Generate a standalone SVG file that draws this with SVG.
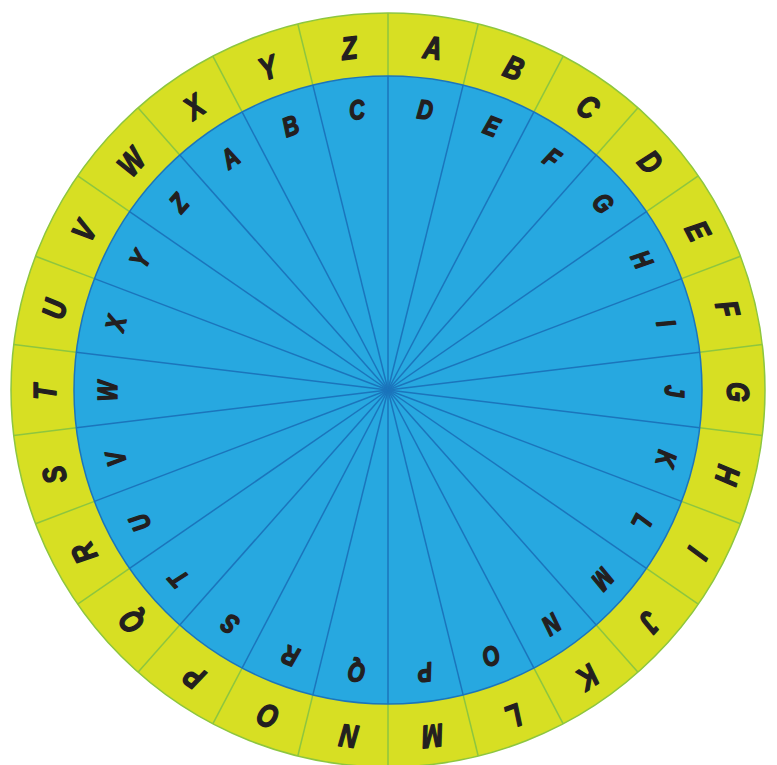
<svg xmlns="http://www.w3.org/2000/svg" width="777" height="765" viewBox="0 0 777 765">
<style>
.ring{fill:#d7df23;stroke:#8dc63f;stroke-width:1.5}
.disc{fill:#27a8e0;stroke:#1b75bc;stroke-width:1.5}
.od{stroke:#8dc63f;stroke-width:1.5}
.id{stroke:#1b75bc;stroke-width:1.5}
.o,.i{font-family:"Liberation Sans",Arial,sans-serif;font-weight:bold;font-style:italic;fill:#231f20;stroke:#231f20;stroke-width:1.5;stroke-linejoin:round;text-anchor:middle}
.o{font-size:32px}
.i{font-size:27px}
</style>
<rect width="777" height="765" fill="#fff"/>
<g id="outer-ring">
<circle class="ring" cx="388" cy="390" r="377"/>
<g class="od">
<line x1="388" y1="13" x2="388" y2="76" transform="rotate(0 388 390)"/>
<line x1="388" y1="13" x2="388" y2="76" transform="rotate(13.846 388 390)"/>
<line x1="388" y1="13" x2="388" y2="76" transform="rotate(27.692 388 390)"/>
<line x1="388" y1="13" x2="388" y2="76" transform="rotate(41.538 388 390)"/>
<line x1="388" y1="13" x2="388" y2="76" transform="rotate(55.385 388 390)"/>
<line x1="388" y1="13" x2="388" y2="76" transform="rotate(69.231 388 390)"/>
<line x1="388" y1="13" x2="388" y2="76" transform="rotate(83.077 388 390)"/>
<line x1="388" y1="13" x2="388" y2="76" transform="rotate(96.923 388 390)"/>
<line x1="388" y1="13" x2="388" y2="76" transform="rotate(110.769 388 390)"/>
<line x1="388" y1="13" x2="388" y2="76" transform="rotate(124.615 388 390)"/>
<line x1="388" y1="13" x2="388" y2="76" transform="rotate(138.462 388 390)"/>
<line x1="388" y1="13" x2="388" y2="76" transform="rotate(152.308 388 390)"/>
<line x1="388" y1="13" x2="388" y2="76" transform="rotate(166.154 388 390)"/>
<line x1="388" y1="13" x2="388" y2="76" transform="rotate(180 388 390)"/>
<line x1="388" y1="13" x2="388" y2="76" transform="rotate(193.846 388 390)"/>
<line x1="388" y1="13" x2="388" y2="76" transform="rotate(207.692 388 390)"/>
<line x1="388" y1="13" x2="388" y2="76" transform="rotate(221.538 388 390)"/>
<line x1="388" y1="13" x2="388" y2="76" transform="rotate(235.385 388 390)"/>
<line x1="388" y1="13" x2="388" y2="76" transform="rotate(249.231 388 390)"/>
<line x1="388" y1="13" x2="388" y2="76" transform="rotate(263.077 388 390)"/>
<line x1="388" y1="13" x2="388" y2="76" transform="rotate(276.923 388 390)"/>
<line x1="388" y1="13" x2="388" y2="76" transform="rotate(290.769 388 390)"/>
<line x1="388" y1="13" x2="388" y2="76" transform="rotate(304.615 388 390)"/>
<line x1="388" y1="13" x2="388" y2="76" transform="rotate(318.462 388 390)"/>
<line x1="388" y1="13" x2="388" y2="76" transform="rotate(332.308 388 390)"/>
<line x1="388" y1="13" x2="388" y2="76" transform="rotate(346.154 388 390)"/>
</g>
</g>
<g id="inner-disc">
<circle class="disc" cx="388" cy="390" r="314"/>
<g class="id">
<line x1="388" y1="390" x2="388" y2="76" transform="rotate(0 388 390)"/>
<line x1="388" y1="390" x2="388" y2="76" transform="rotate(13.846 388 390)"/>
<line x1="388" y1="390" x2="388" y2="76" transform="rotate(27.692 388 390)"/>
<line x1="388" y1="390" x2="388" y2="76" transform="rotate(41.538 388 390)"/>
<line x1="388" y1="390" x2="388" y2="76" transform="rotate(55.385 388 390)"/>
<line x1="388" y1="390" x2="388" y2="76" transform="rotate(69.231 388 390)"/>
<line x1="388" y1="390" x2="388" y2="76" transform="rotate(83.077 388 390)"/>
<line x1="388" y1="390" x2="388" y2="76" transform="rotate(96.923 388 390)"/>
<line x1="388" y1="390" x2="388" y2="76" transform="rotate(110.769 388 390)"/>
<line x1="388" y1="390" x2="388" y2="76" transform="rotate(124.615 388 390)"/>
<line x1="388" y1="390" x2="388" y2="76" transform="rotate(138.462 388 390)"/>
<line x1="388" y1="390" x2="388" y2="76" transform="rotate(152.308 388 390)"/>
<line x1="388" y1="390" x2="388" y2="76" transform="rotate(166.154 388 390)"/>
<line x1="388" y1="390" x2="388" y2="76" transform="rotate(180 388 390)"/>
<line x1="388" y1="390" x2="388" y2="76" transform="rotate(193.846 388 390)"/>
<line x1="388" y1="390" x2="388" y2="76" transform="rotate(207.692 388 390)"/>
<line x1="388" y1="390" x2="388" y2="76" transform="rotate(221.538 388 390)"/>
<line x1="388" y1="390" x2="388" y2="76" transform="rotate(235.385 388 390)"/>
<line x1="388" y1="390" x2="388" y2="76" transform="rotate(249.231 388 390)"/>
<line x1="388" y1="390" x2="388" y2="76" transform="rotate(263.077 388 390)"/>
<line x1="388" y1="390" x2="388" y2="76" transform="rotate(276.923 388 390)"/>
<line x1="388" y1="390" x2="388" y2="76" transform="rotate(290.769 388 390)"/>
<line x1="388" y1="390" x2="388" y2="76" transform="rotate(304.615 388 390)"/>
<line x1="388" y1="390" x2="388" y2="76" transform="rotate(318.462 388 390)"/>
<line x1="388" y1="390" x2="388" y2="76" transform="rotate(332.308 388 390)"/>
<line x1="388" y1="390" x2="388" y2="76" transform="rotate(346.154 388 390)"/>
</g>
</g>
<g id="outer-letters" transform="translate(3 2)">
<g transform="rotate(6.923 388 390)"><text class="o" transform="translate(388 54.5) scale(0.8 1)">A</text></g>
<g transform="rotate(20.769 388 390)"><text class="o" transform="translate(388 54.5) scale(0.8 1)">B</text></g>
<g transform="rotate(34.615 388 390)"><text class="o" transform="translate(388 54.5) scale(0.8 1)">C</text></g>
<g transform="rotate(48.462 388 390)"><text class="o" transform="translate(388 54.5) scale(0.8 1)">D</text></g>
<g transform="rotate(62.308 388 390)"><text class="o" transform="translate(388 54.5) scale(0.8 1)">E</text></g>
<g transform="rotate(76.154 388 390)"><text class="o" transform="translate(388 54.5) scale(0.8 1)">F</text></g>
<g transform="rotate(90 388 390)"><text class="o" transform="translate(388 54.5) scale(0.8 1)">G</text></g>
<g transform="rotate(103.846 388 390)"><text class="o" transform="translate(388 54.5) scale(0.8 1)">H</text></g>
<g transform="rotate(117.692 388 390)"><text class="o" transform="translate(388 54.5) scale(0.8 1)">I</text></g>
<g transform="rotate(131.538 388 390)"><text class="o" transform="translate(388 54.5) scale(0.8 1)">J</text></g>
<g transform="rotate(145.385 388 390)"><text class="o" transform="translate(388 54.5) scale(0.8 1)">K</text></g>
<g transform="rotate(159.231 388 390)"><text class="o" transform="translate(388 54.5) scale(0.8 1)">L</text></g>
<g transform="rotate(173.077 388 390)"><text class="o" transform="translate(388 54.5) scale(0.8 1)">M</text></g>
<g transform="rotate(186.923 388 390)"><text class="o" transform="translate(388 54.5) scale(0.8 1)">N</text></g>
<g transform="rotate(200.769 388 390)"><text class="o" transform="translate(388 54.5) scale(0.8 1)">O</text></g>
<g transform="rotate(214.615 388 390)"><text class="o" transform="translate(388 54.5) scale(0.8 1)">P</text></g>
<g transform="rotate(228.462 388 390)"><text class="o" transform="translate(388 54.5) scale(0.8 1)">Q</text></g>
<g transform="rotate(242.308 388 390)"><text class="o" transform="translate(388 54.5) scale(0.8 1)">R</text></g>
<g transform="rotate(256.154 388 390)"><text class="o" transform="translate(388 54.5) scale(0.8 1)">S</text></g>
<g transform="rotate(270 388 390)"><text class="o" transform="translate(388 54.5) scale(0.8 1)">T</text></g>
<g transform="rotate(283.846 388 390)"><text class="o" transform="translate(388 54.5) scale(0.8 1)">U</text></g>
<g transform="rotate(297.692 388 390)"><text class="o" transform="translate(388 54.5) scale(0.8 1)">V</text></g>
<g transform="rotate(311.538 388 390)"><text class="o" transform="translate(388 54.5) scale(0.8 1)">W</text></g>
<g transform="rotate(325.385 388 390)"><text class="o" transform="translate(388 54.5) scale(0.8 1)">X</text></g>
<g transform="rotate(339.231 388 390)"><text class="o" transform="translate(388 54.5) scale(0.8 1)">Y</text></g>
<g transform="rotate(353.077 388 390)"><text class="o" transform="translate(388 54.5) scale(0.8 1)">Z</text></g>
</g>
<g id="inner-letters" transform="translate(3 1)">
<g transform="rotate(6.923 388 390)"><text class="i" transform="translate(388 116) scale(0.8 1)">D</text></g>
<g transform="rotate(20.769 388 390)"><text class="i" transform="translate(388 116) scale(0.8 1)">E</text></g>
<g transform="rotate(34.615 388 390)"><text class="i" transform="translate(388 116) scale(0.8 1)">F</text></g>
<g transform="rotate(48.462 388 390)"><text class="i" transform="translate(388 116) scale(0.8 1)">G</text></g>
<g transform="rotate(62.308 388 390)"><text class="i" transform="translate(388 116) scale(0.8 1)">H</text></g>
<g transform="rotate(76.154 388 390)"><text class="i" transform="translate(388 116) scale(0.8 1)">I</text></g>
<g transform="rotate(90 388 390)"><text class="i" transform="translate(388 116) scale(0.8 1)">J</text></g>
<g transform="rotate(103.846 388 390)"><text class="i" transform="translate(388 116) scale(0.8 1)">K</text></g>
<g transform="rotate(117.692 388 390)"><text class="i" transform="translate(388 116) scale(0.8 1)">L</text></g>
<g transform="rotate(131.538 388 390)"><text class="i" transform="translate(388 116) scale(0.8 1)">M</text></g>
<g transform="rotate(145.385 388 390)"><text class="i" transform="translate(388 116) scale(0.8 1)">N</text></g>
<g transform="rotate(159.231 388 390)"><text class="i" transform="translate(388 116) scale(0.8 1)">O</text></g>
<g transform="rotate(173.077 388 390)"><text class="i" transform="translate(388 116) scale(0.8 1)">P</text></g>
<g transform="rotate(186.923 388 390)"><text class="i" transform="translate(388 116) scale(0.8 1)">Q</text></g>
<g transform="rotate(200.769 388 390)"><text class="i" transform="translate(388 116) scale(0.8 1)">R</text></g>
<g transform="rotate(214.615 388 390)"><text class="i" transform="translate(388 116) scale(0.8 1)">S</text></g>
<g transform="rotate(228.462 388 390)"><text class="i" transform="translate(388 116) scale(0.8 1)">T</text></g>
<g transform="rotate(242.308 388 390)"><text class="i" transform="translate(388 116) scale(0.8 1)">U</text></g>
<g transform="rotate(256.154 388 390)"><text class="i" transform="translate(388 116) scale(0.8 1)">V</text></g>
<g transform="rotate(270 388 390)"><text class="i" transform="translate(388 116) scale(0.8 1)">W</text></g>
<g transform="rotate(283.846 388 390)"><text class="i" transform="translate(388 116) scale(0.8 1)">X</text></g>
<g transform="rotate(297.692 388 390)"><text class="i" transform="translate(388 116) scale(0.8 1)">Y</text></g>
<g transform="rotate(311.538 388 390)"><text class="i" transform="translate(388 116) scale(0.8 1)">Z</text></g>
<g transform="rotate(325.385 388 390)"><text class="i" transform="translate(388 116) scale(0.8 1)">A</text></g>
<g transform="rotate(339.231 388 390)"><text class="i" transform="translate(388 116) scale(0.8 1)">B</text></g>
<g transform="rotate(353.077 388 390)"><text class="i" transform="translate(388 116) scale(0.8 1)">C</text></g>
</g>
</svg>
